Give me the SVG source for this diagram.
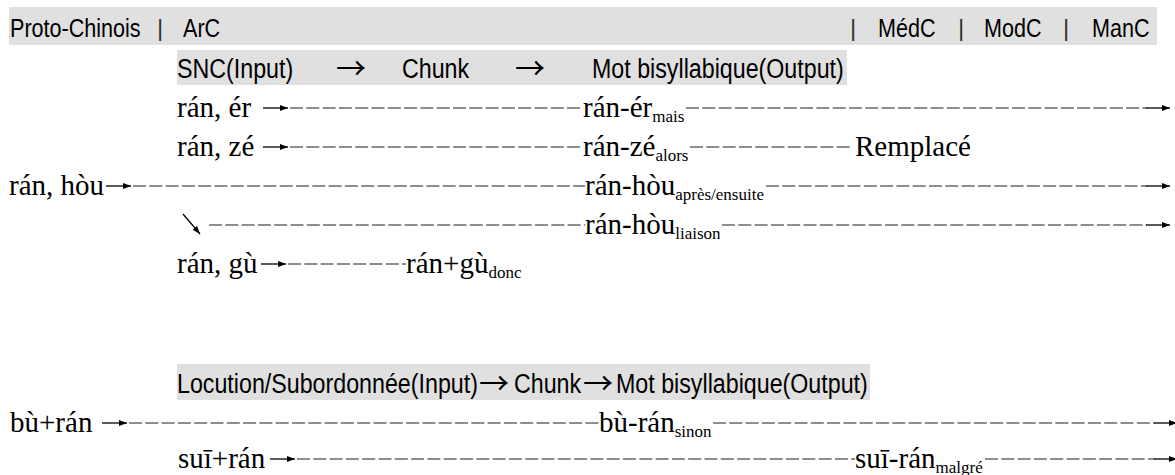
<svg xmlns="http://www.w3.org/2000/svg" width="1175" height="475" viewBox="0 0 1175 475">
<defs>
<style>
.bar{fill:#e0e0e0}
.hd{font-family:"Liberation Sans",Arial,sans-serif;font-size:26px;fill:#000}
.hd2{font-family:"Liberation Sans",Arial,sans-serif;font-size:28px;fill:#000}
.ha{font-family:"Noto Sans CJK SC","DejaVu Sans",sans-serif;font-size:30px;fill:#000}
.sep{font-family:"Liberation Sans",Arial,sans-serif;font-size:24px;fill:#333}
.sr{font-family:"Liberation Serif","Times New Roman",serif;font-size:29px;fill:#000}
.sub{font-size:17px}
.dash{stroke:#6a6a6a;stroke-width:1.4;stroke-dasharray:13 3.3;fill:none}
.arr{stroke:#000;stroke-width:1.3;fill:none;marker-end:url(#ah)}
</style>
<marker id="ah" viewBox="0 0 8 6" refX="8" refY="3" markerWidth="8" markerHeight="6" markerUnits="userSpaceOnUse" orient="auto">
<path d="M0,0 L8,3 L0,6 z" fill="#000"/>
</marker>
</defs>
<rect width="1175" height="475" fill="#fff"/>

<g id="header">
<rect class="bar" x="9" y="7" width="1148" height="38"/>
<text class="hd" transform="translate(10,37) scale(0.83,1)">Proto-Chinois</text>
<text class="sep" x="157" y="36">|</text>
<text class="hd" transform="translate(183,37) scale(0.83,1)">ArC</text>
<text class="sep" x="850" y="36">|</text>
<text class="hd" transform="translate(878,37) scale(0.83,1)">MédC</text>
<text class="sep" x="958" y="36">|</text>
<text class="hd" transform="translate(984,37) scale(0.83,1)">ModC</text>
<text class="sep" x="1063" y="36">|</text>
<text class="hd" transform="translate(1092,37) scale(0.83,1)">ManC</text>
</g>

<g id="snc-header">
<rect class="bar" x="177" y="50" width="670" height="35"/>
<text class="hd2" transform="translate(177,78) scale(0.83,1)">SNC(Input)</text>
<text class="ha" x="336" y="79">→</text>
<text class="hd2" transform="translate(402,78) scale(0.83,1)">Chunk</text>
<text class="ha" x="515" y="79">→</text>
<text class="hd2" transform="translate(592,78) scale(0.83,1)">Mot bisyllabique(Output)</text>
</g>

<g id="loc-header">
<rect class="bar" x="177" y="364" width="693" height="36"/>
<text class="hd2" transform="translate(177,393) scale(0.83,1)">Locution/Subordonnée(Input)</text>
<text class="ha" x="479" y="394">→</text>
<text class="hd2" transform="translate(514,393) scale(0.83,1)">Chunk</text>
<text class="ha" x="583" y="394">→</text>
<text class="hd2" transform="translate(616,393) scale(0.83,1)">Mot bisyllabique(Output)</text>
</g>

<g id="connectors">
<!-- row A -->
<line class="arr" x1="263" y1="108" x2="288" y2="108"/>
<line class="dash" x1="290" y1="108" x2="583" y2="108"/>
<line class="dash" x1="686" y1="108" x2="1147" y2="108"/>
<line class="arr" x1="1146" y1="108" x2="1170" y2="108"/>
<!-- row B -->
<line class="arr" x1="263" y1="147" x2="288" y2="147"/>
<line class="dash" x1="290" y1="147" x2="583" y2="147"/>
<line class="dash" x1="690" y1="147" x2="853" y2="147"/>
<!-- row C -->
<line class="arr" x1="106" y1="186" x2="131" y2="186"/>
<line class="dash" x1="133" y1="186" x2="585" y2="186"/>
<line class="dash" x1="766" y1="186" x2="1147" y2="186"/>
<line class="arr" x1="1146" y1="186" x2="1170" y2="186"/>
<!-- row D -->
<line class="arr" x1="183" y1="214" x2="200" y2="234"/>
<line class="dash" x1="209" y1="225" x2="585" y2="225"/>
<line class="dash" x1="722" y1="225" x2="1147" y2="225"/>
<line class="arr" x1="1146" y1="225" x2="1170" y2="225"/>
<!-- row E -->
<line class="arr" x1="261" y1="264" x2="286" y2="264"/>
<line class="dash" x1="288" y1="264" x2="406" y2="264"/>
<!-- row F -->
<line class="arr" x1="102" y1="423" x2="127" y2="423"/>
<line class="dash" x1="129" y1="423" x2="599" y2="423"/>
<line class="dash" x1="713" y1="423" x2="1155" y2="423"/>
<line class="arr" x1="1154" y1="423" x2="1177" y2="423"/>
<!-- row G -->
<line class="arr" x1="270" y1="459" x2="295" y2="459"/>
<line class="dash" x1="297" y1="459" x2="855" y2="459"/>
<line class="dash" x1="985" y1="459" x2="1155" y2="459"/>
<line class="arr" x1="1154" y1="459" x2="1177" y2="459"/>
</g>

<g id="n-ran-er"><text class="sr" x="177" y="117">rán, ér</text></g>
<g id="n-ran-er-out"><text class="sr" x="583" y="117">rán-ér<tspan class="sub" dy="5">mais</tspan></text></g>
<g id="n-ran-ze"><text class="sr" x="177" y="156">rán, zé</text></g>
<g id="n-ran-ze-out"><text class="sr" x="583" y="156">rán-zé<tspan class="sub" dy="5">alors</tspan></text></g>
<g id="n-remplace"><text class="sr" x="855" y="156">Remplacé</text></g>
<g id="n-ran-hou"><text class="sr" x="9" y="195">rán, hòu</text></g>
<g id="n-ran-hou-out1"><text class="sr" x="585" y="195">rán-hòu<tspan class="sub" dy="5">après/ensuite</tspan></text></g>
<g id="n-ran-hou-out2"><text class="sr" x="585" y="234">rán-hòu<tspan class="sub" dy="5">liaison</tspan></text></g>
<g id="n-ran-gu"><text class="sr" x="177" y="273">rán, gù</text></g>
<g id="n-ran-gu-out"><text class="sr" x="406" y="273">rán+gù<tspan class="sub" dy="5">donc</tspan></text></g>
<g id="n-bu-ran"><text class="sr" x="10" y="432">bù+rán</text></g>
<g id="n-bu-ran-out"><text class="sr" x="599" y="432">bù-rán<tspan class="sub" dy="5">sinon</tspan></text></g>
<g id="n-sui-ran"><text class="sr" x="178" y="468">suī+rán</text></g>
<g id="n-sui-ran-out"><text class="sr" x="855" y="468">suī-rán<tspan class="sub" dy="5">malgré</tspan></text></g>
</svg>
